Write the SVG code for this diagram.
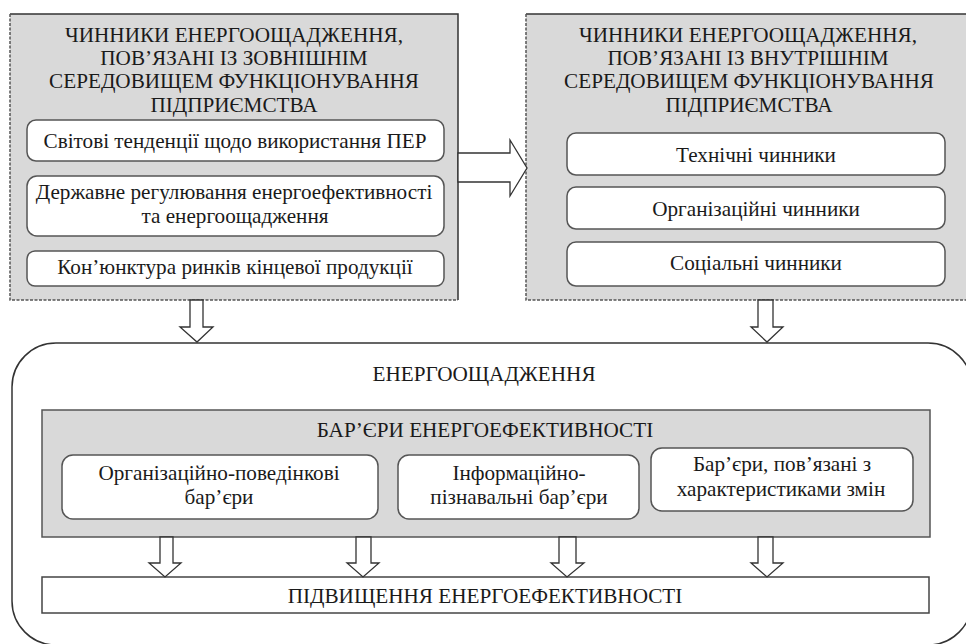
<svg xmlns="http://www.w3.org/2000/svg" width="966" height="644" viewBox="0 0 966 644">
<style>
text{font-family:"Liberation Serif","Times New Roman",serif;fill:#1a1a1a;text-anchor:middle;font-size:21.2px}
.panel{fill:#d9d9d9;stroke:none}
.solid{stroke:#333;stroke-width:1.5;fill:none}
.dash{stroke:#555;stroke-width:1.5;fill:none;stroke-dasharray:3 1.5}
.card{fill:#fff;stroke:#555;stroke-width:1.5}
.arr{fill:#fff;stroke:#333;stroke-width:1.3;stroke-linejoin:miter}
</style>
<g id="big">
<rect x="12" y="343" width="960" height="302" rx="44" fill="#fff" stroke="#333" stroke-width="1.5"/>
<text x="484" y="381">ЕНЕРГООЩАДЖЕННЯ</text>
</g>
<g id="external">
<rect class="panel" x="10" y="14" width="448" height="286"/>
<path class="solid" d="M10 14H458V300"/>
<path class="dash" d="M10 14V300H458"/>
<text x="234" y="42">ЧИННИКИ ЕНЕРГООЩАДЖЕННЯ,</text>
<text x="234" y="65">ПОВ’ЯЗАНІ ІЗ ЗОВНІШНІМ</text>
<text x="234" y="88">СЕРЕДОВИЩЕМ ФУНКЦІОНУВАННЯ</text>
<text x="234" y="112">ПІДПРИЄМСТВА</text>
<g id="ext1"><rect class="card" x="27" y="120" width="417" height="41" rx="9"/><text x="235" y="148">Світові тенденції щодо використання ПЕР</text></g>
<g id="ext2"><rect class="card" x="27" y="176" width="417" height="60" rx="10"/><text x="234" y="199">Державне регулювання енергоефективності</text><text x="235" y="223">та енергоощадження</text></g>
<g id="ext3"><rect class="card" x="27" y="251" width="417" height="35" rx="8"/><text x="235" y="274">Кон’юнктура ринків кінцевої продукції</text></g>
</g>
<g id="internal">
<rect class="panel" x="526" y="14" width="445" height="286"/>
<path class="solid" d="M526 14H971"/>
<path class="dash" d="M526 14V300H971"/>
<text x="748" y="42">ЧИННИКИ ЕНЕРГООЩАДЖЕННЯ,</text>
<text x="748" y="65">ПОВ’ЯЗАНІ ІЗ ВНУТРІШНІМ</text>
<text x="749" y="88">СЕРЕДОВИЩЕМ ФУНКЦІОНУВАННЯ</text>
<text x="749" y="112">ПІДПРИЄМСТВА</text>
<g id="int1"><rect class="card" x="567" y="133" width="378" height="42" rx="9"/><text x="756" y="162">Технічні чинники</text></g>
<g id="int2"><rect class="card" x="567" y="187" width="378" height="42" rx="9"/><text x="756" y="216">Організаційні чинники</text></g>
<g id="int3"><rect class="card" x="567" y="242" width="378" height="44" rx="9"/><text x="756" y="270">Соціальні чинники</text></g>
</g>
<g id="barriers">
<rect x="42" y="410" width="888" height="127" fill="#d9d9d9" stroke="#555" stroke-width="1.5"/>
<text x="485" y="437">БАР’ЄРИ ЕНЕРГОЕФЕКТИВНОСТІ</text>
<g id="bar1"><rect class="card" x="62" y="455" width="316" height="64" rx="11"/><text x="219" y="480">Організаційно-поведінкові</text><text x="219" y="504">бар’єри</text></g>
<g id="bar2"><rect class="card" x="398" y="455" width="241" height="64" rx="11"/><text x="519" y="480">Інформаційно-</text><text x="519" y="504">пізнавальні бар’єри</text></g>
<g id="bar3"><rect class="card" x="651" y="448" width="262" height="63" rx="11"/><text x="782" y="471">Бар’єри, пов’язані з</text><text x="781" y="496">характеристиками змін</text></g>
</g>
<g id="result">
<rect x="42" y="577" width="887" height="36" fill="#fff" stroke="#444" stroke-width="1.5"/>
<text x="485" y="603">ПІДВИЩЕННЯ ЕНЕРГОЕФЕКТИВНОСТІ</text>
</g>
<g id="connectors">
<polygon class="arr" points="458,153 510,153 510,140 527,168 510,196 510,182 458,182"/>
<polygon class="arr" points="190,300 203,300 203,327 213,327 197,342 180,327 190,327"/>
<polygon class="arr" points="758,300 773,300 773,327 783,327 767,342 751,327 758,327"/>
<polygon class="arr" points="160,537 173,537 173,563 181,563 165,577 149,563 160,563"/>
<polygon class="arr" points="356,537 371,537 371,563 379,563 363,577 347,563 356,563"/>
<polygon class="arr" points="559,537 576,537 576,563 584,563 567,577 551,563 559,563"/>
<polygon class="arr" points="758,537 773,537 773,563 783,563 767,577 751,563 758,563"/>
</g>
</svg>
